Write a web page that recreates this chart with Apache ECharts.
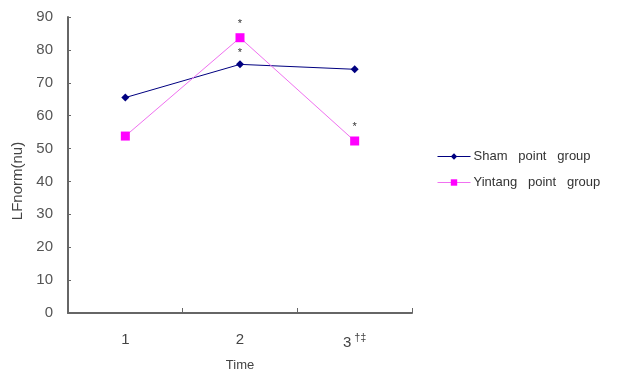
<!DOCTYPE html>
<html><head><meta charset="utf-8">
<script src="https://cdn.jsdelivr.net/npm/echarts@6/dist/echarts.min.js"></script>
<style>html,body{margin:0;padding:0;background:#fff}#c{width:617px;height:384px}</style>
</head><body><div id="c"></div>
<script>
const categories = ['1', '2', '3'];
const categorySup = ['', '', '†‡'];
const yTicks = [0, 10, 20, 30, 40, 50, 60, 70, 80, 90];
const shamValues = [65.5, 75.6, 74.1];
const yintangValues = [53.8, 83.7, 52.3];
const shamMarks = ['', '*', ''];
const yintangMarks = ['', '*', '*'];
const seriesNames = ['Sham   point   group', 'Yintang   point   group'];
const yAxisName = 'LFnorm(nu)';

function withMarks(vals, marks) {
  return vals.map((v, i) => ({
    value: v,
    label: { show: marks[i] !== '', formatter: marks[i] }
  }));
}

const chart = echarts.init(document.getElementById('c'));
chart.setOption({
  backgroundColor: '#fff',
  animation: false,
  textStyle: { fontFamily: 'Arial, "Liberation Sans", sans-serif' },
  grid: { left: 68, right: 205, top: 17, bottom: 71, containLabel: false },
  legend: {
    orient: 'vertical', left: 437, top: 150, padding: 0, itemWidth: 33, itemHeight: 8, itemGap: 13,
    lineStyle: { width: 1 },
    textStyle: { fontSize: 13, color: '#333', padding: [0, 0, 0, -2] },
    data: seriesNames
  },
  graphic: [{
    type: 'text', x: 18, y: 181, rotation: Math.PI / 2,
    style: { text: yAxisName, fontSize: 15, fill: '#444', align: 'center', verticalAlign: 'middle',
             fontFamily: 'Arial, "Liberation Sans", sans-serif' }
  }],
  xAxis: {
    type: 'category', data: categories, boundaryGap: true,
    name: 'Time', nameLocation: 'middle', nameGap: 46,
    nameTextStyle: { fontSize: 13, color: '#444' },
    axisLine: { lineStyle: { color: '#666', width: 2 } },
    axisTick: { show: true, inside: true, length: 5, lineStyle: { color: '#666' } },
    axisLabel: {
      margin: 19, fontSize: 15, color: '#444',
      formatter: (v, i) => categorySup[i] ? v + '{s|' + categorySup[i] + '}' : v,
      rich: { s: { fontSize: 11, color: '#444', verticalAlign: 'top', padding: [0, 0, 10, 3] } }
    }
  },
  yAxis: {
    type: 'value', min: yTicks[0], max: yTicks[yTicks.length - 1], interval: 10,
    axisLine: { show: true, lineStyle: { color: '#666', width: 2 } },
    axisTick: { show: true, inside: true, length: 3, lineStyle: { color: '#666' } },
    axisLabel: { margin: 15, fontSize: 15, color: '#555' },
    splitLine: { show: false }
  },
  series: [
    {
      name: seriesNames[0], type: 'line', data: withMarks(shamValues, shamMarks),
      symbol: 'diamond', symbolSize: 8,
      lineStyle: { color: '#000080', width: 1 }, itemStyle: { color: '#000080' },
      label: { position: 'top', distance: 2, fontSize: 11, color: '#333' }
    },
    {
      name: seriesNames[1], type: 'line', data: withMarks(yintangValues, yintangMarks),
      symbol: 'rect', symbolSize: 9,
      lineStyle: { color: '#f070f0', width: 1 }, itemStyle: { color: '#ff00ff' },
      label: { position: 'top', distance: 4, fontSize: 11, color: '#333' }
    }
  ]
});
</script></body></html>
